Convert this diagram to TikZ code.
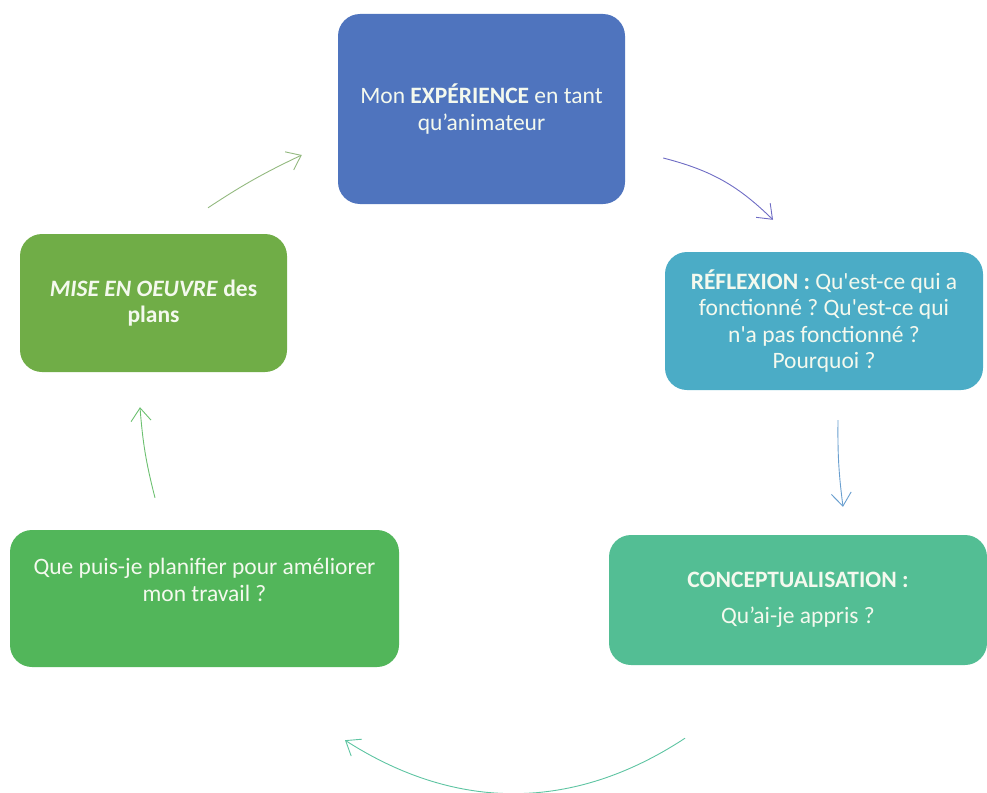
\documentclass[tikz,border=0pt]{standalone}
\usepackage{fontspec}
\setmainfont{Carlito}
\usepackage{tikz}
\usetikzlibrary{arrows.meta}
\frenchspacing
\definecolor{cexp}{HTML}{4F74BE}
\definecolor{crefl}{HTML}{4BACC6}
\definecolor{cconc}{HTML}{53BE94}
\definecolor{cplan}{HTML}{52B65A}
\definecolor{cmise}{HTML}{70AD47}
\definecolor{ctext}{HTML}{F4F9EE}
\definecolor{aone}{HTML}{93B97F}
\definecolor{atwo}{HTML}{6E6CC4}
\definecolor{athree}{HTML}{6A9FCF}
\definecolor{afour}{HTML}{5EC4A2}
\definecolor{afive}{HTML}{6CC070}

\begin{document}
\begin{tikzpicture}[x=1pt, y=1pt,
  box/.style={rounded corners=22pt, inner sep=0pt},
  txt/.style={text=ctext, align=center, font=\fontsize{23.5}{26.5}\selectfont},
  arr/.style={line width=0.9pt, -{Straight Barb[length=13pt,width=20pt]}}]
  \useasboundingbox (0,0) rectangle (987,-792);
  \node[box, txt, fill=cexp, minimum width=287pt, minimum height=190pt] (exp) at (481.5,-109)
    {Mon \textbf{EXPÉRIENCE} en tant\\qu’animateur};
  \node[box, txt, fill=crefl, minimum width=318pt, minimum height=138pt] (refl) at (824,-321)
    {\textbf{RÉFLEXION :} Qu\textquotesingle est-ce qui a\\fonctionné ? Qu\textquotesingle est-ce qui\\n\textquotesingle a pas fonctionné ?\\Pourquoi ?};
  \node[box, txt, fill=cconc, minimum width=378pt, minimum height=130pt] (conc) at (798,-600)
    {\textbf{CONCEPTUALISATION :}\\[10pt]Qu’ai-je appris ?};
  \node[box, fill=cplan, minimum width=389pt, minimum height=137pt] (plan) at (204.5,-598.5) {};
  \node[txt] (plantext) at ([yshift=18.5pt]plan.center)
    {Que puis-je planifier pour améliorer\\mon travail ?};
  \node[box, txt, fill=cmise, minimum width=267pt, minimum height=138pt] (mise) at (153.5,-303)
    {\textbf{\textit{MISE EN OEUVRE} des}\\\textbf{plans}};

  \draw[arr, aone] ([xshift=54.5pt,yshift=26pt]mise.north) to[bend left=4] ([xshift=-36pt,yshift=-46pt]exp.west);
  \draw[arr, atwo] ([xshift=38pt,yshift=-49pt]exp.east) to[bend left=15] ([xshift=-51pt,yshift=32pt]refl.north);
  \draw[arr, athree] ([xshift=14pt,yshift=-30pt]refl.south) to[bend right=4] ([xshift=45pt,yshift=28pt]conc.north);
  \draw[arr, afour] ([xshift=-113pt,yshift=-73pt]conc.south) to[bend left=33] ([xshift=140.5pt,yshift=-73pt]plan.south);
  \draw[arr, afive] ([xshift=-49.5pt,yshift=32pt]plan.north) to[bend left=5] ([xshift=-13.5pt,yshift=-35pt]mise.south);
\end{tikzpicture}
\end{document}
